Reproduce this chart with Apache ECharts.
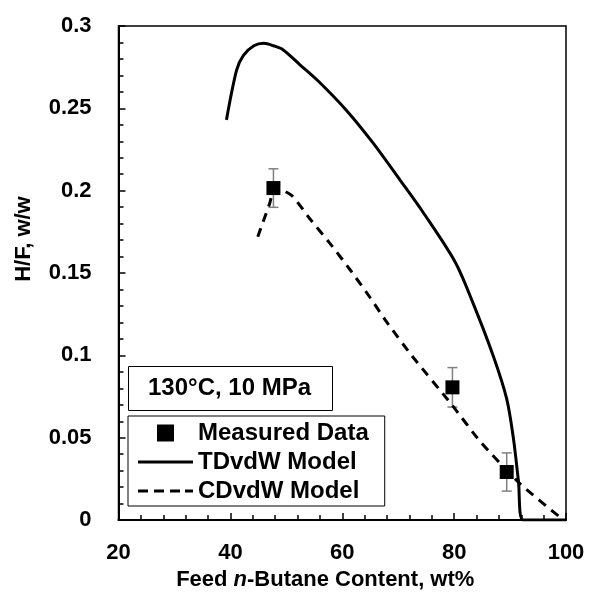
<!DOCTYPE html>
<html>
<head>
<meta charset="utf-8">
<script src="https://cdn.jsdelivr.net/npm/echarts@6/dist/echarts.min.js"></script>
<style>
html,body{margin:0;padding:0;background:#fff;}
#chart{width:593px;height:596px;}
</style>
</head>
<body>
<div id="chart"></div>
<script>
// ---- data ----
var xTicks = [20, 40, 60, 80, 100];
var yTicks = [0, 0.05, 0.1, 0.15, 0.2, 0.25, 0.3];

var measX = [47.7, 79.7, 89.4];
var measY = [0.2016, 0.0806, 0.0292];
var measErr = [0.0117, 0.012, 0.0116];

var tdX = [39.3, 41.1, 42.3, 44.2, 46.0, 47.7, 49.4, 52.4, 55.7, 60.8, 65.5, 70.3, 74.5, 80.2, 83.4, 87.0, 89.4, 90.6, 91.5, 92.3, 100];
var tdY = [0.243, 0.273, 0.282, 0.288, 0.2895, 0.288, 0.2856, 0.2766, 0.2666, 0.2486, 0.229, 0.2066, 0.1866, 0.1566, 0.1316, 0.0996, 0.0736, 0.0496, 0.0236, 0.0, 0.0];

var cdX = [44.9, 47.0, 48.0, 51.0, 54.2, 57.8, 61.4, 65.0, 68.0, 72.4, 79.6, 84.6, 91.8, 99.2];
var cdY = [0.172, 0.192, 0.202, 0.197, 0.183, 0.168, 0.152, 0.135, 0.120, 0.100, 0.070, 0.048, 0.022, 0.001];

function zip(a, b) { return a.map(function (v, i) { return [v, b[i]]; }); }

var FONT = 'Arial, "Liberation Sans", sans-serif';
var chart = echarts.init(document.getElementById('chart'));

var option = {
  backgroundColor: '#fff',
  animation: false,
  title: {
    text: '130°C, 10 MPa',
    left: 128, top: 366,
    padding: [10, 22, 11, 20],
    borderColor: '#000', borderWidth: 1,
    textStyle: { fontFamily: FONT, fontWeight: 'bold', fontSize: 24, color: '#000' }
  },
  legend: {
    orient: 'vertical',
    left: 128, top: 416,
    padding: [5, 16, 3, 10],
    borderColor: '#000', borderWidth: 1,
    itemWidth: 55, itemHeight: 17, itemGap: 5,
    textStyle: { fontFamily: FONT, fontWeight: 'bold', fontSize: 24, color: '#000' },
    data: [
      { name: 'Measured Data', icon: 'path://M0,0H10V10H0Z' },
      { name: 'TDvdW Model', icon: 'path://M0,0H55V3H0Z' },
      { name: 'CDvdW Model', icon: 'path://M0,0H10V3H0Z M16,0H26V3H16Z M32,0H42V3H32Z M47,0H55V3H47Z' }
    ]
  },
  grid: {
    left: 118.5, right: 27, top: 26, bottom: 70,
    show: true, borderColor: '#000', borderWidth: 1.5, backgroundColor: 'transparent'
  },
  xAxis: {
    type: 'value', min: 20, max: 100, interval: 20,
    name: '{a|Feed }{b|n}{a|-Butane Content, wt%}',
    nameLocation: 'middle', nameGap: 40,
    nameTextStyle: {
      padding: [0, 34, 0, 0],
      rich: {
        a: { fontFamily: FONT, fontWeight: 'bold', fontSize: 22, color: '#000' },
        b: { fontFamily: FONT, fontWeight: 'bold', fontStyle: 'italic', fontSize: 22, color: '#000' }
      }
    },
    axisLine: { lineStyle: { color: '#000', width: 2 } },
    axisTick: { inside: true, length: 7, lineStyle: { color: '#000', width: 1.5 } },
    minorTick: { show: true, splitNumber: 5, length: 5, lineStyle: { color: '#000', width: 1.5 } },
    splitLine: { show: false },
    axisLabel: { margin: 22, fontFamily: FONT, fontWeight: 'bold', fontSize: 22, color: '#000' }
  },
  yAxis: {
    type: 'value', min: 0, max: 0.3, interval: 0.05,
    name: 'H/F, w/w',
    nameLocation: 'middle', nameGap: 84,
    nameTextStyle: { fontFamily: FONT, fontWeight: 'bold', fontSize: 22, color: '#000', padding: [0, 0, 0, 68] },
    axisLine: { lineStyle: { color: '#000', width: 2 } },
    axisTick: { inside: true, length: 7, lineStyle: { color: '#000', width: 1.5 } },
    minorTick: { show: true, splitNumber: 5, length: 5, lineStyle: { color: '#000', width: 1.5 } },
    splitLine: { show: false },
    axisLabel: { margin: 27, fontFamily: FONT, fontWeight: 'bold', fontSize: 22, color: '#000' }
  },
  series: [
    {
      name: 'TDvdW Model', type: 'line', data: zip(tdX, tdY),
      showSymbol: false, symbol: 'none', smooth: 0.3, z: 3,
      lineStyle: { color: '#000', width: 3 }, itemStyle: { color: '#000' }
    },
    {
      name: 'CDvdW Model', type: 'line', data: zip(cdX, cdY),
      showSymbol: false, symbol: 'none', smooth: 0.2, z: 4,
      lineStyle: { color: '#000', width: 3, type: [9, 7] }, itemStyle: { color: '#000' }
    },
    {
      name: 'errbars', type: 'custom', z: 2,
      data: measX.map(function (x, i) { return [x, measY[i] - measErr[i], measY[i] + measErr[i]]; }),
      renderItem: function (params, api) {
        var lo = api.coord([api.value(0), api.value(1)]);
        var hi = api.coord([api.value(0), api.value(2)]);
        var w = 5;
        var st = { stroke: '#808080', lineWidth: 1.5, fill: null };
        return {
          type: 'group', children: [
            { type: 'line', shape: { x1: lo[0], y1: lo[1], x2: hi[0], y2: hi[1] }, style: st },
            { type: 'line', shape: { x1: lo[0] - w, y1: lo[1], x2: lo[0] + w, y2: lo[1] }, style: st },
            { type: 'line', shape: { x1: hi[0] - w, y1: hi[1], x2: hi[0] + w, y2: hi[1] }, style: st }
          ]
        };
      }
    },
    {
      name: 'Measured Data', type: 'scatter', data: zip(measX, measY),
      symbol: 'rect', symbolSize: 14, z: 5,
      itemStyle: { color: '#000', opacity: 1 }
    }
  ]
};
chart.setOption(option);
</script>
</body>
</html>
